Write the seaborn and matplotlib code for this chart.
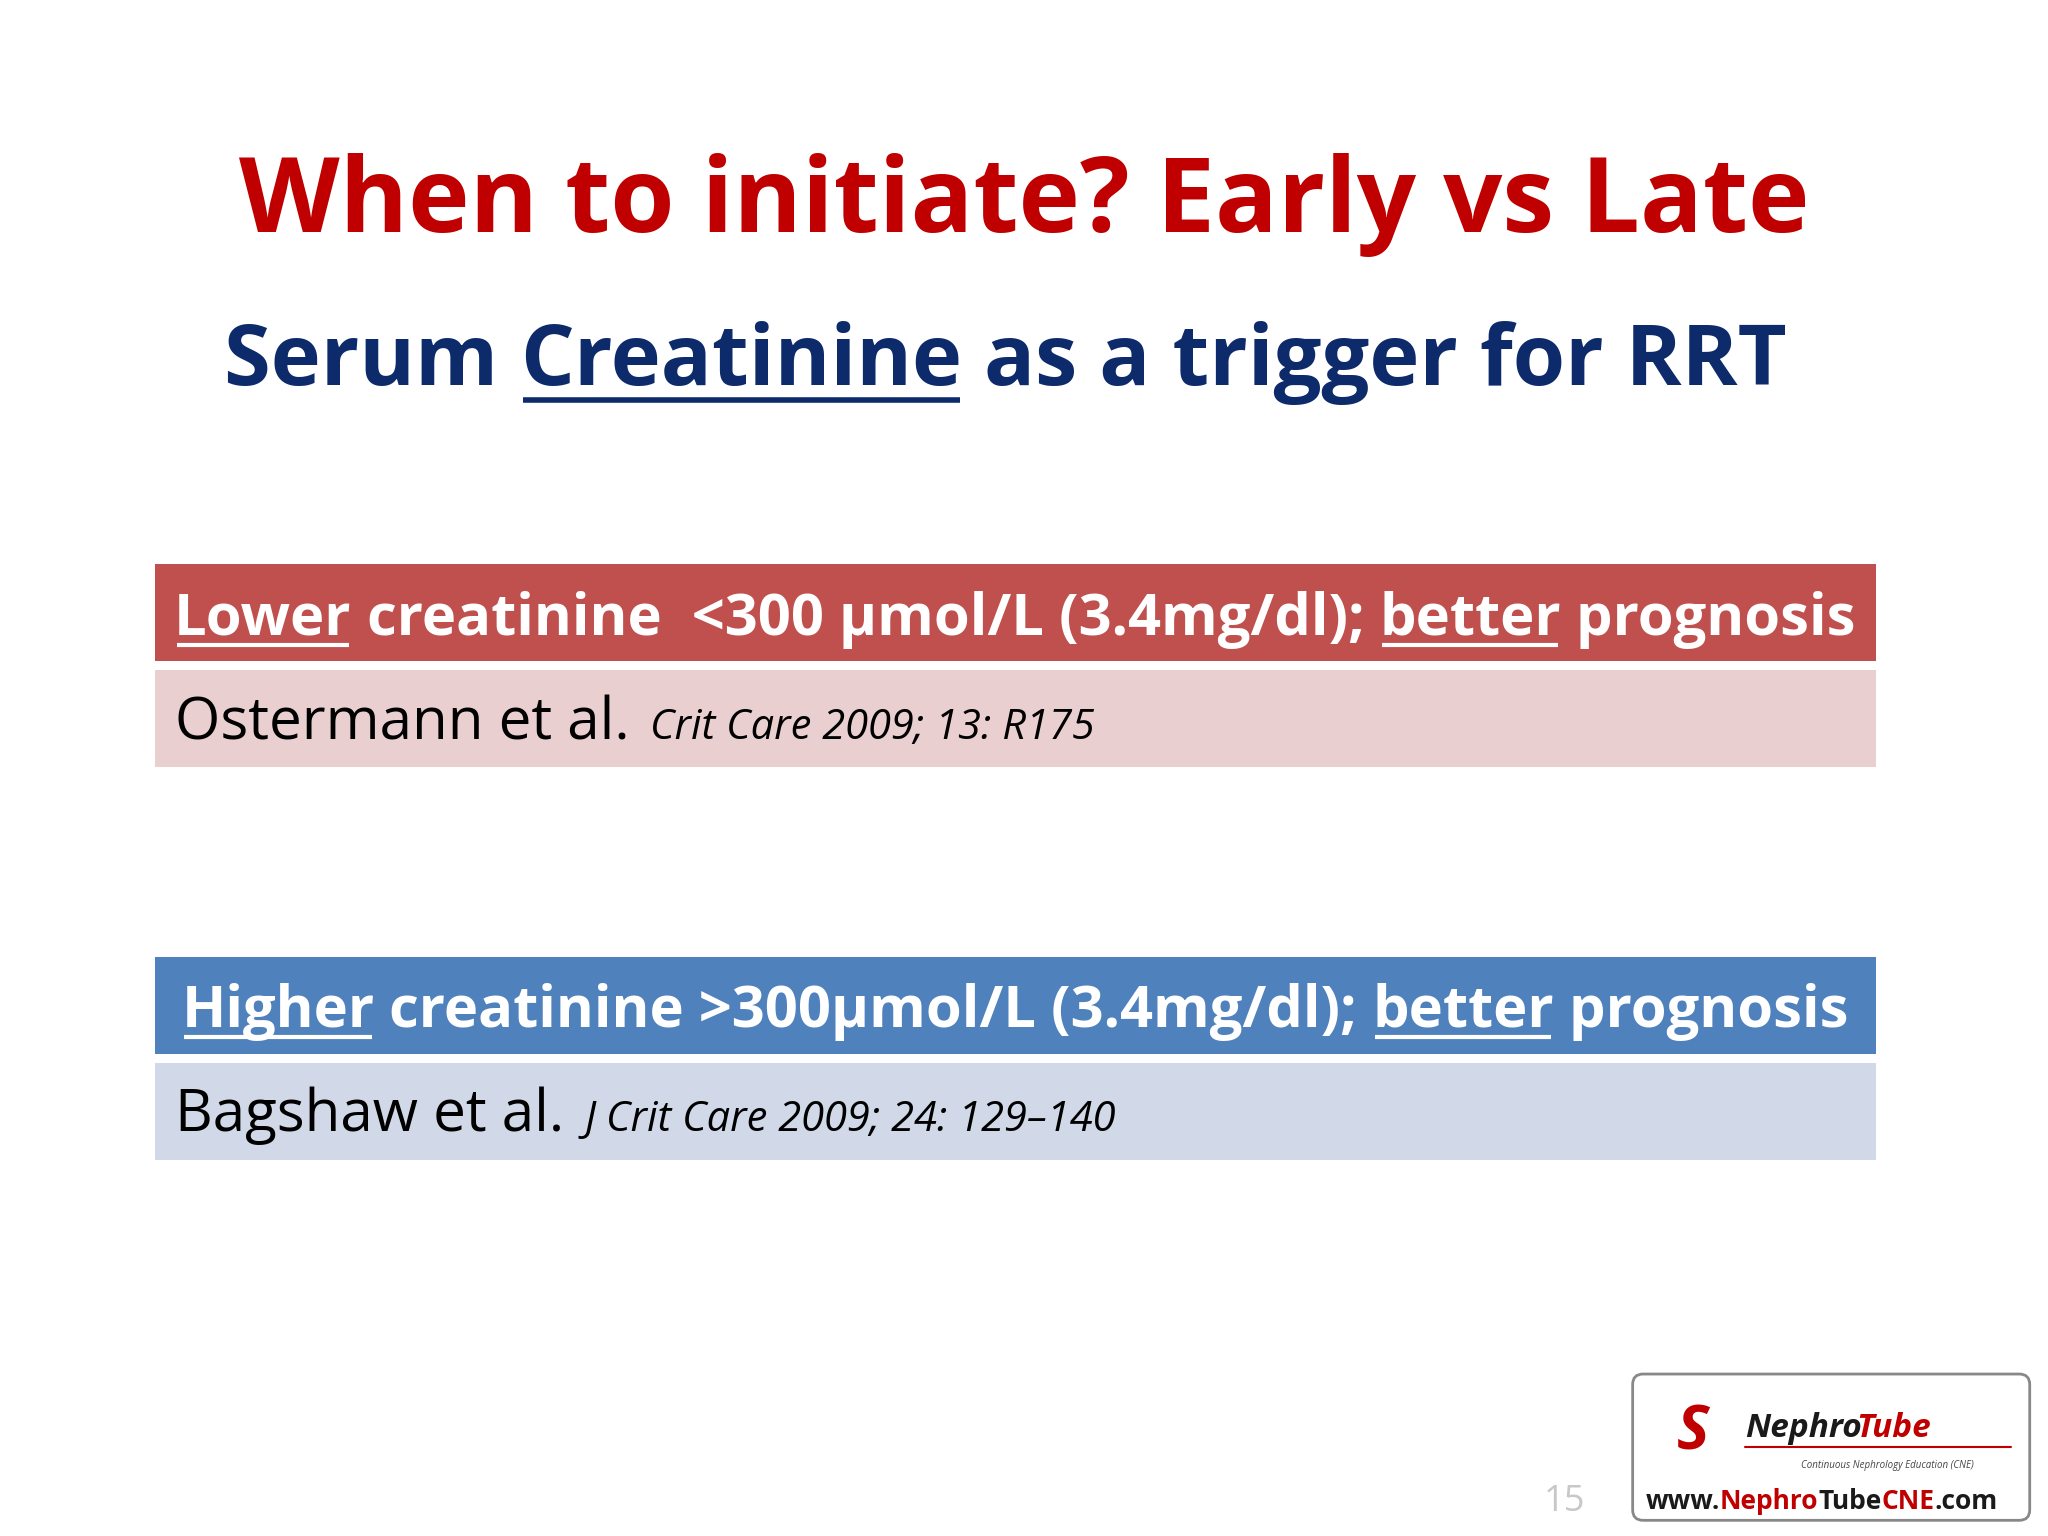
import matplotlib
matplotlib.use("Agg")
import matplotlib.pyplot as plt
import seaborn as sns
from matplotlib.patches import Rectangle, FancyBboxPatch

sns.set_theme(style="white")
plt.rcParams['font.family'] = ['Open Sans', 'DejaVu Sans']

title = "When to initiate? Early vs Late"
subtitle = [("Serum ", False), ("Creatinine", True), (" as a trigger for RRT", False)]
header1 = [("Lower", True), (" creatinine  <300 µmol/L (3.4mg/dl); ", False), ("better", True), (" prognosis", False)]
header2 = [("Higher", True), (" creatinine >300µmol/L (3.4mg/dl); ", False), ("better", True), (" prognosis", False)]
ref1 = ("Ostermann et al. ", "Crit Care 2009; 13: R175")
ref2 = ("Bagshaw et al. ", "J Crit Care 2009; 24: 129–140")
page = "15"

W, H = 1568, 1176
fig = plt.figure(figsize=(20.48, 15.36), dpi=100)
ax = fig.add_axes([0, 0, 1, 1])
ax.set_xlim(0, W); ax.set_ylim(H, 0); ax.axis("off")
fig.canvas.draw()
r = fig.canvas.get_renderer()
sc = W / 2048

def width(t):
    bb = t.get_window_extent(renderer=r)
    return bb.width * sc

def segments(segs, x, y, size, color, weight, center=False, ul_off=0.0, ul_lw=3):
    texts = []
    for s, u in segs:
        t = ax.text(0, y, s, fontsize=size, color=color, weight=weight, va="baseline")
        texts.append((t, u))
    total = sum(width(t) for t, _ in texts)
    if center:
        x = x - total / 2
    for t, u in texts:
        t.set_x(x)
        w = width(t)
        if u:
            ax.plot([x + 2, x + w - 2], [y + ul_off, y + ul_off], color=color, lw=ul_lw, solid_capstyle="butt")
        x += w

ax.text(784, 178, title, fontsize=75, color="#C00000", weight="bold", ha="center", va="baseline")
segments(subtitle, 770, 295, 61, "#0D2A6B", "bold", center=True, ul_off=11, ul_lw=4)

bars = [(432, "#C0504D"), (513, "#EACFD1"), (733, "#4F81BD"), (814, "#D1D9E8")]
for y0, c in bars:
    ax.add_patch(Rectangle((119, y0), 1317, 74, color=c, lw=0))

segments(header1, 777, 486, 41.7, "white", "bold", center=True, ul_off=8, ul_lw=3)
segments(header2, 777, 786, 41.7, "white", "bold", center=True, ul_off=8, ul_lw=3)

for (a, b), yb in [(ref1, 566), (ref2, 866)]:
    t = ax.text(134, yb, a, fontsize=42, color="black", va="baseline")
    ax.text(134 + width(t) + 4, yb, b, fontsize=30, color="black", style="italic", va="baseline")

ax.text(1198, 1157, page, fontsize=26, color="#C8C8C8", ha="center", va="baseline")

# logo
ax.add_patch(FancyBboxPatch((1250, 1052), 304, 112, boxstyle="round,pad=0,rounding_size=8",
                            fc="white", ec="#888888", lw=2))
ax.text(1296, 1098, "S", fontsize=44, color="#C00000", weight="bold", ha="center", va="center", style="italic")
t = ax.text(1336, 1100, "Nephro", fontsize=24, color="#1a1a1a", weight="bold", style="italic", va="baseline")
ax.text(1336 + width(t) - 4, 1100, "Tube", fontsize=24, color="#C00000", weight="bold", style="italic", va="baseline")
ax.text(1445, 1124, "Continuous Nephrology Education (CNE)", fontsize=7, color="#444444", style="italic", ha="center", va="baseline")
ax.plot([1336, 1540], [1108, 1108], color="#C00000", lw=1.5)
x = 1260
for s, c in [("www.", "#1a1a1a"), ("Nephro", "#C00000"), ("Tube", "#1a1a1a"), ("CNE", "#C00000"), (".com", "#1a1a1a")]:
    t = ax.text(x, 1155, s, fontsize=19, color=c, weight="bold", va="baseline")
    x += width(t)

fig.savefig("out.png", dpi=100, facecolor="white")
